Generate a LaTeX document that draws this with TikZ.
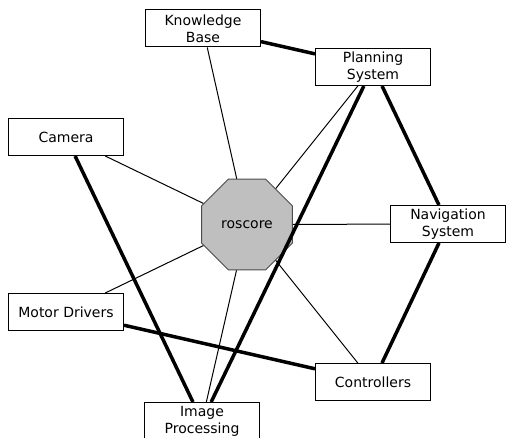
\documentclass[tikz,border=0pt]{standalone}
\usepackage{fontspec}
\setmainfont{DejaVu Sans}
\usetikzlibrary{shapes.geometric}
\begin{document}
\begin{tikzpicture}[x=1pt,y=-1pt,
    every node/.style={font=\fontsize{14}{17}\selectfont},
    box/.style={draw,line width=1pt,fill=white,minimum width=115pt,minimum height=37pt,inner sep=1pt,align=center},
    core/.style={draw=black!70,line width=1pt,fill=black!25,regular polygon,regular polygon sides=8,minimum size=98pt,inner sep=0pt},
    link/.style={line width=1pt},
    wire/.style={line width=3.5pt}]
      \clip (0,0) rectangle (506,438);
      \draw
        (247,224.5) node[core] (rc){roscore}
        (203,28.5) node[box] (kb){Knowledge\\Base}
        (373,67) node[box] (ps){Planning\\System}
        (66,137) node[box] (cam){Camera}
        (448,224) node[box] (nav){Navigation\\System}
        (66,312) node[box] (mot){Motor Drivers}
        (373,382) node[box] (ctl){Controllers}
        (202,421) node[box] (img){Image\\Processing};
      \begin{scope}[link]
        \draw (rc) to (kb);
        \draw (rc) to (ps);
        \draw (rc) to (cam);
        \draw (rc) to (nav);
        \draw (rc) to (mot);
        \draw (rc) to (ctl);
        \draw (rc) to (img);
      \end{scope}
      \begin{scope}[wire]
        \draw (kb) to (ps);
        \draw (ps) to (nav);
        \draw (nav) to (ctl);
        \draw (cam) to (img);
        \draw (ps) to (img);
        \draw (mot) to (ctl);
      \end{scope}
    \end{tikzpicture}
\end{document}
